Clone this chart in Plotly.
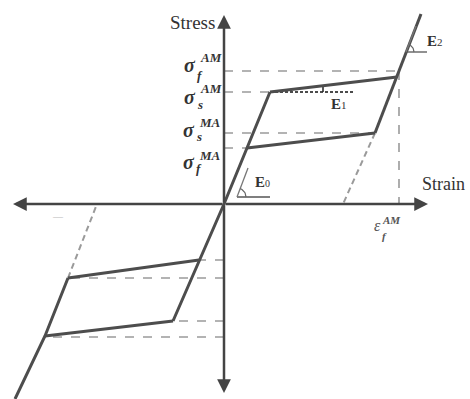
import numpy as np
import plotly.graph_objects as go

# Schematic stress-strain loop (arbitrary units: strain on x, stress on y)
# tension side
elastic_x = [-51, 0, 46]
elastic_y = [-117, 0, 112]
upper_plateau_x = [46, 173]
upper_plateau_y = [112, 127]
lower_plateau_x = [23, 151]
lower_plateau_y = [56, 71]
martensite_x = [151, 197]
martensite_y = [71, 190]
unload_x = [151, 119]
unload_y = [71, 0]

# compression side
comp_upper_x = [-25, -156]
comp_upper_y = [-56, -74]
comp_lower_x = [-51, -179]
comp_lower_y = [-117, -132]
comp_martensite_x = [-156, -179, -209]
comp_martensite_y = [-74, -132, -195]
comp_unload_x = [-156, -127]
comp_unload_y = [-74, 0]

# characteristic stresses / strain
sigma_levels = [133, 112, 71, 56]        # sf_AM, ss_AM, ss_MA, sf_MA
sigma_ends = [175, 46, 151, 23]
eps_f_AM = 175
comp_levels = [-56, -74, -117, -133]
comp_ends = [-25, -156, -51, -179]

SOLID = '#4d4d4d'
GUIDE = '#9a9a9a'
TXT = '#333333'
SERIF = 'Liberation Serif, Times New Roman, serif'

fig = go.Figure()

def solid(x, y):
    fig.add_trace(go.Scatter(x=x, y=y, mode='lines', line=dict(color=SOLID, width=3),
                             hoverinfo='skip'))

def guide(x, y, color=GUIDE, dash='dash', width=1.6):
    fig.add_trace(go.Scatter(x=x, y=y, mode='lines',
                             line=dict(color=color, width=width, dash=dash),
                             hoverinfo='skip'))

# dashed guide lines
for lev, end in zip(sigma_levels, sigma_ends):
    guide([0, end], [lev, lev])
for lev, end in zip(comp_levels, comp_ends):
    guide([0, end], [lev, lev])
guide([eps_f_AM, eps_f_AM], [sigma_levels[0], 0])
guide(unload_x, unload_y, dash='6px,4px', width=2)
guide(comp_unload_x, comp_unload_y, dash='6px,4px', width=2)

# E1 reference (dotted black) and tick
guide([upper_plateau_x[0], 131], [upper_plateau_y[0], upper_plateau_y[0]],
      color='#111111', dash='3px,2px', width=1.5)
tick_x = 99
tick_top = np.interp(tick_x, upper_plateau_x, upper_plateau_y)
guide([tick_x, tick_x], [upper_plateau_y[0], tick_top], color='#222222', dash='solid', width=1.5)

# main curves
for x, y in [(elastic_x, elastic_y), (upper_plateau_x, upper_plateau_y),
             (lower_plateau_x, lower_plateau_y), (martensite_x, martensite_y),
             (comp_upper_x, comp_upper_y), (comp_lower_x, comp_lower_y),
             (comp_martensite_x, comp_martensite_y)]:
    solid(x, y)

# little angle symbols for E0 and E2
def angle_mark(vx, vy, base, slope_pt, r):
    guide([vx, vx + base], [vy, vy], color='#555555', dash='solid', width=1.3)
    guide([vx, slope_pt[0]], [vy, slope_pt[1]], color='#777777', dash='solid', width=1.3)
    ang = np.arctan2(slope_pt[1] - vy, slope_pt[0] - vx)
    t = np.linspace(0, ang, 12)
    guide(list(vx + r * np.cos(t)), list(vy + r * np.sin(t)), color='#666666', dash='solid', width=1.2)

angle_mark(13, 7, 33, (24, 36), 9)
angle_mark(182, 152, 21, (192, 178), 8)

annotations = []

# axes with arrowheads
for tx, ty in [(204, 0), (-211, 0), (0, 189), (0, -189)]:
    annotations.append(dict(x=tx, y=ty, ax=0, ay=0, xref='x', yref='y', axref='x', ayref='y',
                            text='', showarrow=True, arrowhead=2, arrowsize=1.1,
                            arrowwidth=2.5, arrowcolor='#444444'))

def label(x, y, text, size, italic=False, color=TXT, bold=False):
    if italic:
        text = '<i>' + text + '</i>'
    if bold:
        text = '<b>' + text + '</b>'
    annotations.append(dict(x=x, y=y, xref='x', yref='y', text=text, showarrow=False,
                            font=dict(family=SERIF, size=size, color=color)))

label(-32, 182, 'Stress', 19)
label(219, 20, 'Strain', 18)

# sigma labels: (sigma pos, superscript pos, subscript pos)
sig_labels = [('AM', 'f', (-34, 139), (-13, 147), (-24, 129)),
              ('AM', 's', (-34, 107), (-13, 116), (-24, 100)),
              ('MA', 's', (-35, 74), (-14, 82), (-25, 68)),
              ('MA', 'f', (-35, 42), (-14, 49), (-25, 36))]
for sup, sub, p_sig, p_sup, p_sub in sig_labels:
    label(p_sig[0], p_sig[1], 'σ', 20, italic=True, bold=True)
    label(p_sup[0], p_sup[1], sup, 13, italic=True, bold=True)
    label(p_sub[0], p_sub[1], sub, 13, italic=True, bold=True)

# strain label
label(153, -21, 'ε', 16, italic=True, color='#555555')
label(167, -16, 'AM', 11, italic=True, color='#555555', bold=True)
label(160, -32, 'f', 11, italic=True, color='#555555', bold=True)

# moduli
label(38, 22, '<b>E</b><span style="font-size:10px">0</span>', 15)
label(115, 100, '<b>E</b><span style="font-size:11px">1</span>', 15)
label(211, 163, '<b>E</b><span style="font-size:11px">2</span>', 15)

# stray mark on compression side
label(-166, -12, '—', 10, color='#bbbbbb')

fig.update_layout(
    width=470, height=399,
    margin=dict(l=0, r=0, t=0, b=0),
    paper_bgcolor='white', plot_bgcolor='white',
    showlegend=False,
    xaxis=dict(range=[-224, 246], visible=False, fixedrange=True),
    yaxis=dict(range=[-195, 204], visible=False, fixedrange=True),
    annotations=annotations,
)

fig.write_html("out.html", config={'displayModeBar': False},
               post_script="document.body.style.margin='0';")
